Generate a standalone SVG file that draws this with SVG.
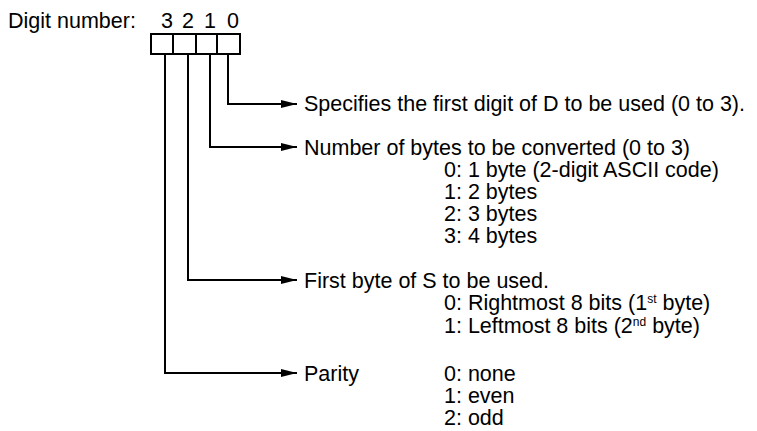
<svg xmlns="http://www.w3.org/2000/svg" width="757" height="431" viewBox="0 0 757 431">
<defs><marker id="ah" markerWidth="16" markerHeight="8" refX="16" refY="4" orient="auto" markerUnits="userSpaceOnUse"><path d="M0,0 L16,4 L0,8 Z" fill="#000"/></marker></defs>
<style>text{font-family:"Liberation Sans",Arial,sans-serif;font-size:21.5px;fill:#000}.c{fill:none;stroke:#000;stroke-width:2}.sup{font-size:12px}</style>
<rect width="757" height="431" fill="#fff"/>
<g id="header"><text x="8" y="28">Digit number:</text>
<text x="167" y="28" text-anchor="middle">3</text><text x="188" y="28" text-anchor="middle">2</text><text x="210" y="28" text-anchor="middle">1</text><text x="233" y="28" text-anchor="middle">0</text>
<rect x="151" y="34" width="89" height="20" class="c"/><path class="c" d="M173,34V54M196,34V54M217,34V54"/></g>
<g id="connectors">
<path class="c" d="M228,54V104H297" marker-end="url(#ah)"/>
<path class="c" d="M210,54V147H297" marker-end="url(#ah)"/>
<path class="c" d="M188,54V280H297" marker-end="url(#ah)"/>
<path class="c" d="M165,54V373H297" marker-end="url(#ah)"/>
</g>
<g id="n0"><text x="304" y="111">Specifies the first digit of D to be used (0 to 3).</text></g>
<g id="n1"><text x="304" y="155">Number of bytes to be converted (0 to 3)</text>
<text x="444" y="177">0: 1 byte (2-digit ASCII code)</text><text x="444" y="199">1: 2 bytes</text><text x="444" y="221">2: 3 bytes</text><text x="444" y="243">3: 4 bytes</text></g>
<g id="n2"><text x="304" y="288">First byte of S to be used.</text>
<text x="444" y="310">0: Rightmost 8 bits (1<tspan class="sup" dy="-7">st</tspan><tspan dy="7"> byte)</tspan></text>
<text x="444" y="333">1: Leftmost 8 bits (2<tspan class="sup" dy="-7">nd</tspan><tspan dy="7"> byte)</tspan></text></g>
<g id="n3"><text x="304" y="381">Parity</text>
<text x="444" y="381">0: none</text><text x="444" y="403">1: even</text><text x="444" y="425">2: odd</text></g>
</svg>
